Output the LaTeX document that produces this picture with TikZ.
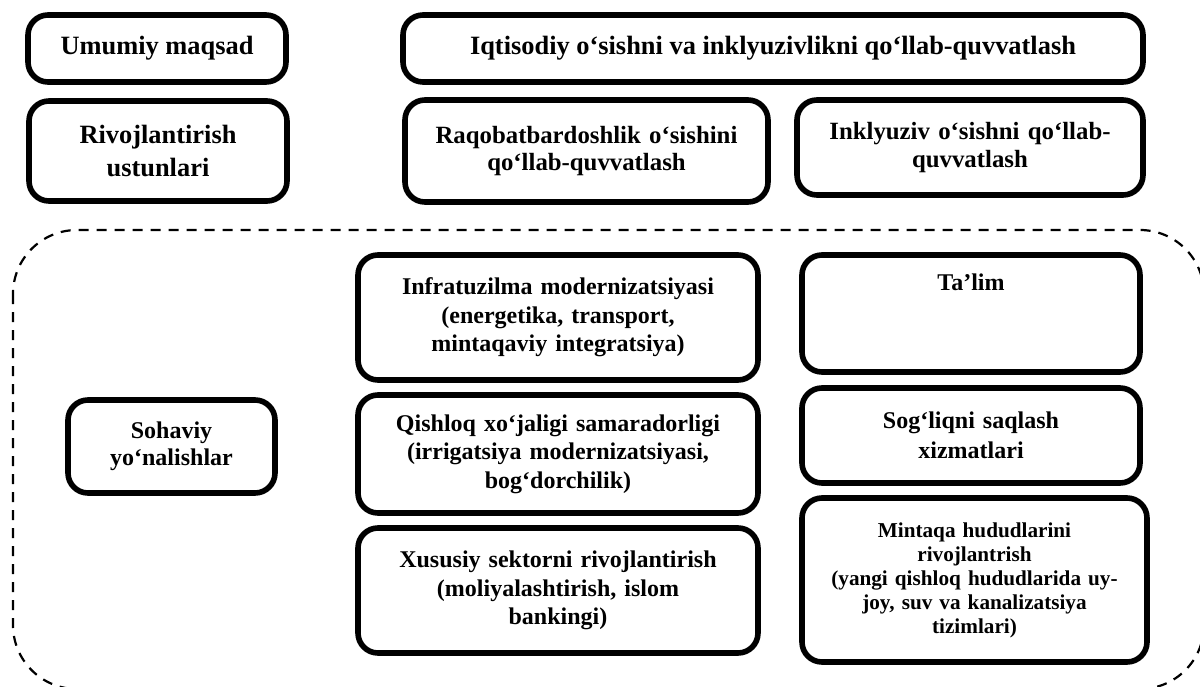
\documentclass[tikz,border=0pt]{standalone}
\usepackage{fontspec}
\setmainfont{Liberation Serif}
\begin{document}
\begin{tikzpicture}[x=0.5pt,y=-0.5pt,
  box/.style={draw, line width=2.8pt, rounded corners=10pt, align=center, inner sep=2pt,
    font=\bfseries\fontsize{12}{14.2}\selectfont},
  bigbox/.style={box, font=\bfseries\fontsize{13.2}{16.5}\selectfont},
  midbox/.style={box, font=\bfseries\fontsize{12.4}{13.6}\selectfont},
  smallbox/.style={box, font=\bfseries\fontsize{10.6}{12}\selectfont},
  txt/.style={align=center, font=\bfseries\fontsize{12}{14}\selectfont, inner sep=0pt},
  region/.style={draw, line width=1.1pt, dash pattern=on 5pt off 4pt, rounded corners=32pt}]
\clip (0,0) rectangle (1200,686);
\useasboundingbox (0,0) rectangle (1200,686);
\fill[white] (0,0) rectangle (1200,686);
% dashed region
\draw[region] (13,230) rectangle (1204,689);
% top rows
\node[bigbox, minimum width=129pt, minimum height=33.5pt] (um) at (157,48.5) {Umumiy maqsad};
\node[bigbox, minimum width=129pt, minimum height=50pt, text width=120pt] (riv) at (158,151) {Rivojlantirish\\ustunlari};
\node[bigbox, minimum width=370pt, minimum height=33.5pt] (iqt) at (773,48.5) {Iqtisodiy o‘sishni va inklyuzivlikni qo‘llab-quvvatlash};
\node[midbox, minimum width=181.5pt, minimum height=51pt, text width=172pt] (raq) at (586.5,151) {Raqobatbardoshlik o‘sishini\\qo‘llab-quvvatlash};
\node[midbox, minimum width=173pt, minimum height=47.5pt, text width=164pt] (ink) at (970,147.5) {Inklyuziv o‘sishni qo‘llab-\\quvvatlash};
% sectors
\node[box, minimum width=103.5pt, minimum height=46.5pt, text width=96pt, font=\bfseries\fontsize{12}{13.5}\selectfont] (soh) at (171.5,446.5) {Sohaviy\\yo‘nalishlar};
\node[box, minimum width=200pt, minimum height=62.5pt, text width=192pt] (inf) at (558,317.5) {Infratuzilma modernizatsiyasi\\(energetika, transport,\\mintaqaviy integratsiya)};
\node[box, minimum width=200pt, minimum height=59pt, text width=192pt] (qis) at (558,454) {Qishloq xo‘jaligi samaradorligi\\(irrigatsiya modernizatsiyasi,\\bog‘dorchilik)};
\node[box, minimum width=200pt, minimum height=62.5pt, text width=192pt] (xus) at (558,590.5) {Xususiy sektorni rivojlantirish\\(moliyalashtirish, islom\\bankingi)};
\node[box, minimum width=169pt, minimum height=58.5pt] (tal) at (971,313.5) {};
\node[txt, anchor=north] (taltxt) at (971,273) {Ta’lim};
\node[box, minimum width=169pt, minimum height=47.5pt, text width=160pt, font=\bfseries\fontsize{12}{15}\selectfont] (sog) at (971,435.5) {Sog‘liqni saqlash\\xizmatlari};
\node[smallbox, minimum width=172.5pt, minimum height=82pt, text width=164pt] (min) at (974.5,580) {Mintaqa hududlarini\\rivojlantrish\\(yangi qishloq hududlarida uy-\\joy, suv va kanalizatsiya\\tizimlari)};
\end{tikzpicture}
\end{document}
